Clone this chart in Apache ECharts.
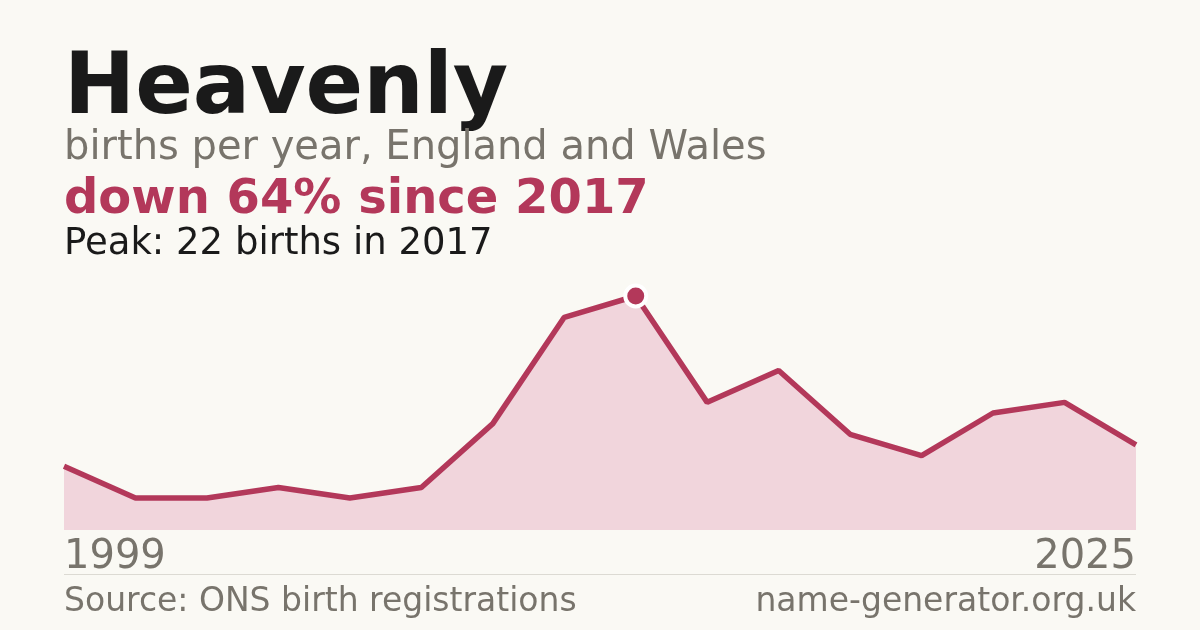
<!DOCTYPE html>
<html>
<head>
<meta charset="utf-8">
<script src="https://cdn.jsdelivr.net/npm/echarts@6/dist/echarts.min.js"></script>
<style>
  html, body { margin: 0; padding: 0; background: #faf9f4; }
  #chart { width: 1200px; height: 630px; }
</style>
</head>
<body>
<div id="chart"></div>
<script>
// births per year for the name, only years with registrations
const years = ['1999', '2001', '2004', '2006', '2008', '2010', '2014', '2016', '2017',
  '2018', '2019', '2020', '2021', '2022', '2023', '2025']
const births = [6, 3, 3, 4, 3, 4, 10, 20, 22, 12, 15, 9, 7, 11, 12, 8]
const peakYear = '2017'
const peakValue = 22

const font = 'DejaVu Sans'
const red = '#b3385a'
const grey = '#78746c'

const chart = echarts.init(document.getElementById('chart'))

// y is the top of the text box
const txt = (x, y, text, size, color, weight, align) => ({
  type: 'text', x, y,
  style: { text, fontFamily: font, fontSize: size, fill: color,
    fontWeight: weight || 'normal', align: align || 'left', verticalAlign: 'top' }
})

chart.setOption({
  backgroundColor: '#faf9f4',
  animation: false,
  grid: { left: 64, right: 64, top: 296, bottom: 100 },
  xAxis: {
    type: 'category',
    data: years,
    boundaryGap: false,
    axisLine: { show: false },
    axisTick: { show: false },
    axisLabel: {
      interval: (i) => i === 0 || i === years.length - 1,
      fontFamily: font, fontSize: 40, color: grey, margin: 8,
      alignMinLabel: 'left', alignMaxLabel: 'right'
    }
  },
  yAxis: {
    type: 'value', min: 0, max: peakValue,
    show: false, splitLine: { show: false }
  },
  series: [
    {
      type: 'line',
      data: births,
      showSymbol: false,
      lineStyle: { color: red, width: 5.5 },
      areaStyle: { color: '#f1d5dc', opacity: 1 }
    },
    {
      type: 'scatter',
      data: [[peakYear, peakValue]],
      symbolSize: 21,
      itemStyle: { color: red, borderColor: '#ffffff', borderWidth: 4, opacity: 1 },
      z: 5
    }
  ],
  graphic: [
    txt(64, 48, 'Heavenly', 85, '#1a1a1a', 'bold'),
    txt(64, 129, 'births per year, England and Wales', 40, grey),
    txt(64, 177, 'down 64% since 2017', 48, red, 'bold'),
    txt(64, 226, 'Peak: 22 births in 2017', 37, '#1a1a1a'),
    { type: 'line', shape: { x1: 64, y1: 574.5, x2: 1136, y2: 574.5 },
      style: { stroke: '#dcdad3', lineWidth: 1 } },
    txt(64, 586, 'Source: ONS birth registrations', 33, grey),
    txt(1136, 586, 'name-generator.org.uk', 33, grey, 'normal', 'right')
  ]
})
</script>
</body>
</html>
